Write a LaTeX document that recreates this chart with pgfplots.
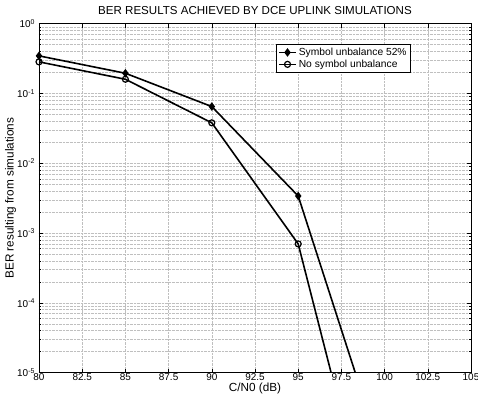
\documentclass[border=0pt]{standalone}
\usepackage{pgfplots}
\pgfplotsset{compat=1.18}
\usepackage{fontspec}
\setmainfont{Liberation Sans}
\begin{document}
\begin{tikzpicture}
\useasboundingbox (-39bp,-22.3bp) rectangle (439bp,372.7bp);
\begin{axis}[
  scale only axis, width=432bp, height=349bp,
  xmin=80, xmax=105, ymode=log, ymin=1e-5, ymax=1,
  xtick={80,82.5,85,87.5,90,92.5,95,97.5,100,102.5,105},
  xticklabels={80,82.5,85,87.5,90,92.5,95,97.5,100,102.5,105},
  ytick={1e-5,1e-4,1e-3,1e-2,1e-1,1},
  yticklabels={10\textsuperscript{-5},10\textsuperscript{-4},10\textsuperscript{-3},10\textsuperscript{-2},10\textsuperscript{-1},10\textsuperscript{0}},
  grid=both,
  major grid style={densely dotted, gray!50, line width=0.5bp},
  minor grid style={densely dotted, gray!50, line width=0.5bp},
  tick align=inside,
  major tick length=4bp, minor tick length=2bp,
  axis line style={black, line width=0.6bp},
  every tick/.style={black, line width=0.5bp},
  tick label style={font=\fontsize{10}{11}\selectfont},
  xticklabel style={yshift=2.5bp},
  yticklabel style={xshift=-0.5bp},
  xlabel={C/N0 (dB)}, ylabel={BER resulting from simulations},
  xlabel style={at={(axis description cs:0.5,-0.044)}, anchor=center, font=\fontsize{11.8}{13}\selectfont},
  ylabel style={at={(axis description cs:-0.0655,0.5)}, anchor=center, font=\fontsize{11.8}{13}\selectfont},
  title={BER RESULTS ACHIEVED BY DCE UPLINK SIMULATIONS},
  title style={at={(axis description cs:0.5,1.022)}, anchor=center, font=\fontsize{11.6}{14}\selectfont},
  legend style={at={(axis description cs:0.549,0.942)}, anchor=north west, draw=black, line width=0.5bp,
    font=\fontsize{10.3}{11}\selectfont, inner sep=1.8bp, row sep=-1bp, cells={anchor=west}},
]
\addplot[black, line width=1.6bp, mark=diamond*, mark size=3bp, mark indices={1,2,3,4},
  legend image post style={mark indices={2}}]
  coordinates {(80,0.346)(85,0.195)(90,0.065)(95,0.0034)(100,5e-7)};
\addlegendentry{Symbol unbalance 52\%}
\addplot[black, line width=1.6bp, mark=o, mark size=3bp, mark options={line width=1.2bp}, mark indices={1,2,3,4},
  legend image post style={mark indices={2}}]
  coordinates {(80,0.284)(85,0.16)(90,0.038)(95,7e-4)(100,1e-8)};
\addlegendentry{No symbol unbalance}
\end{axis}
\end{tikzpicture}
\end{document}
